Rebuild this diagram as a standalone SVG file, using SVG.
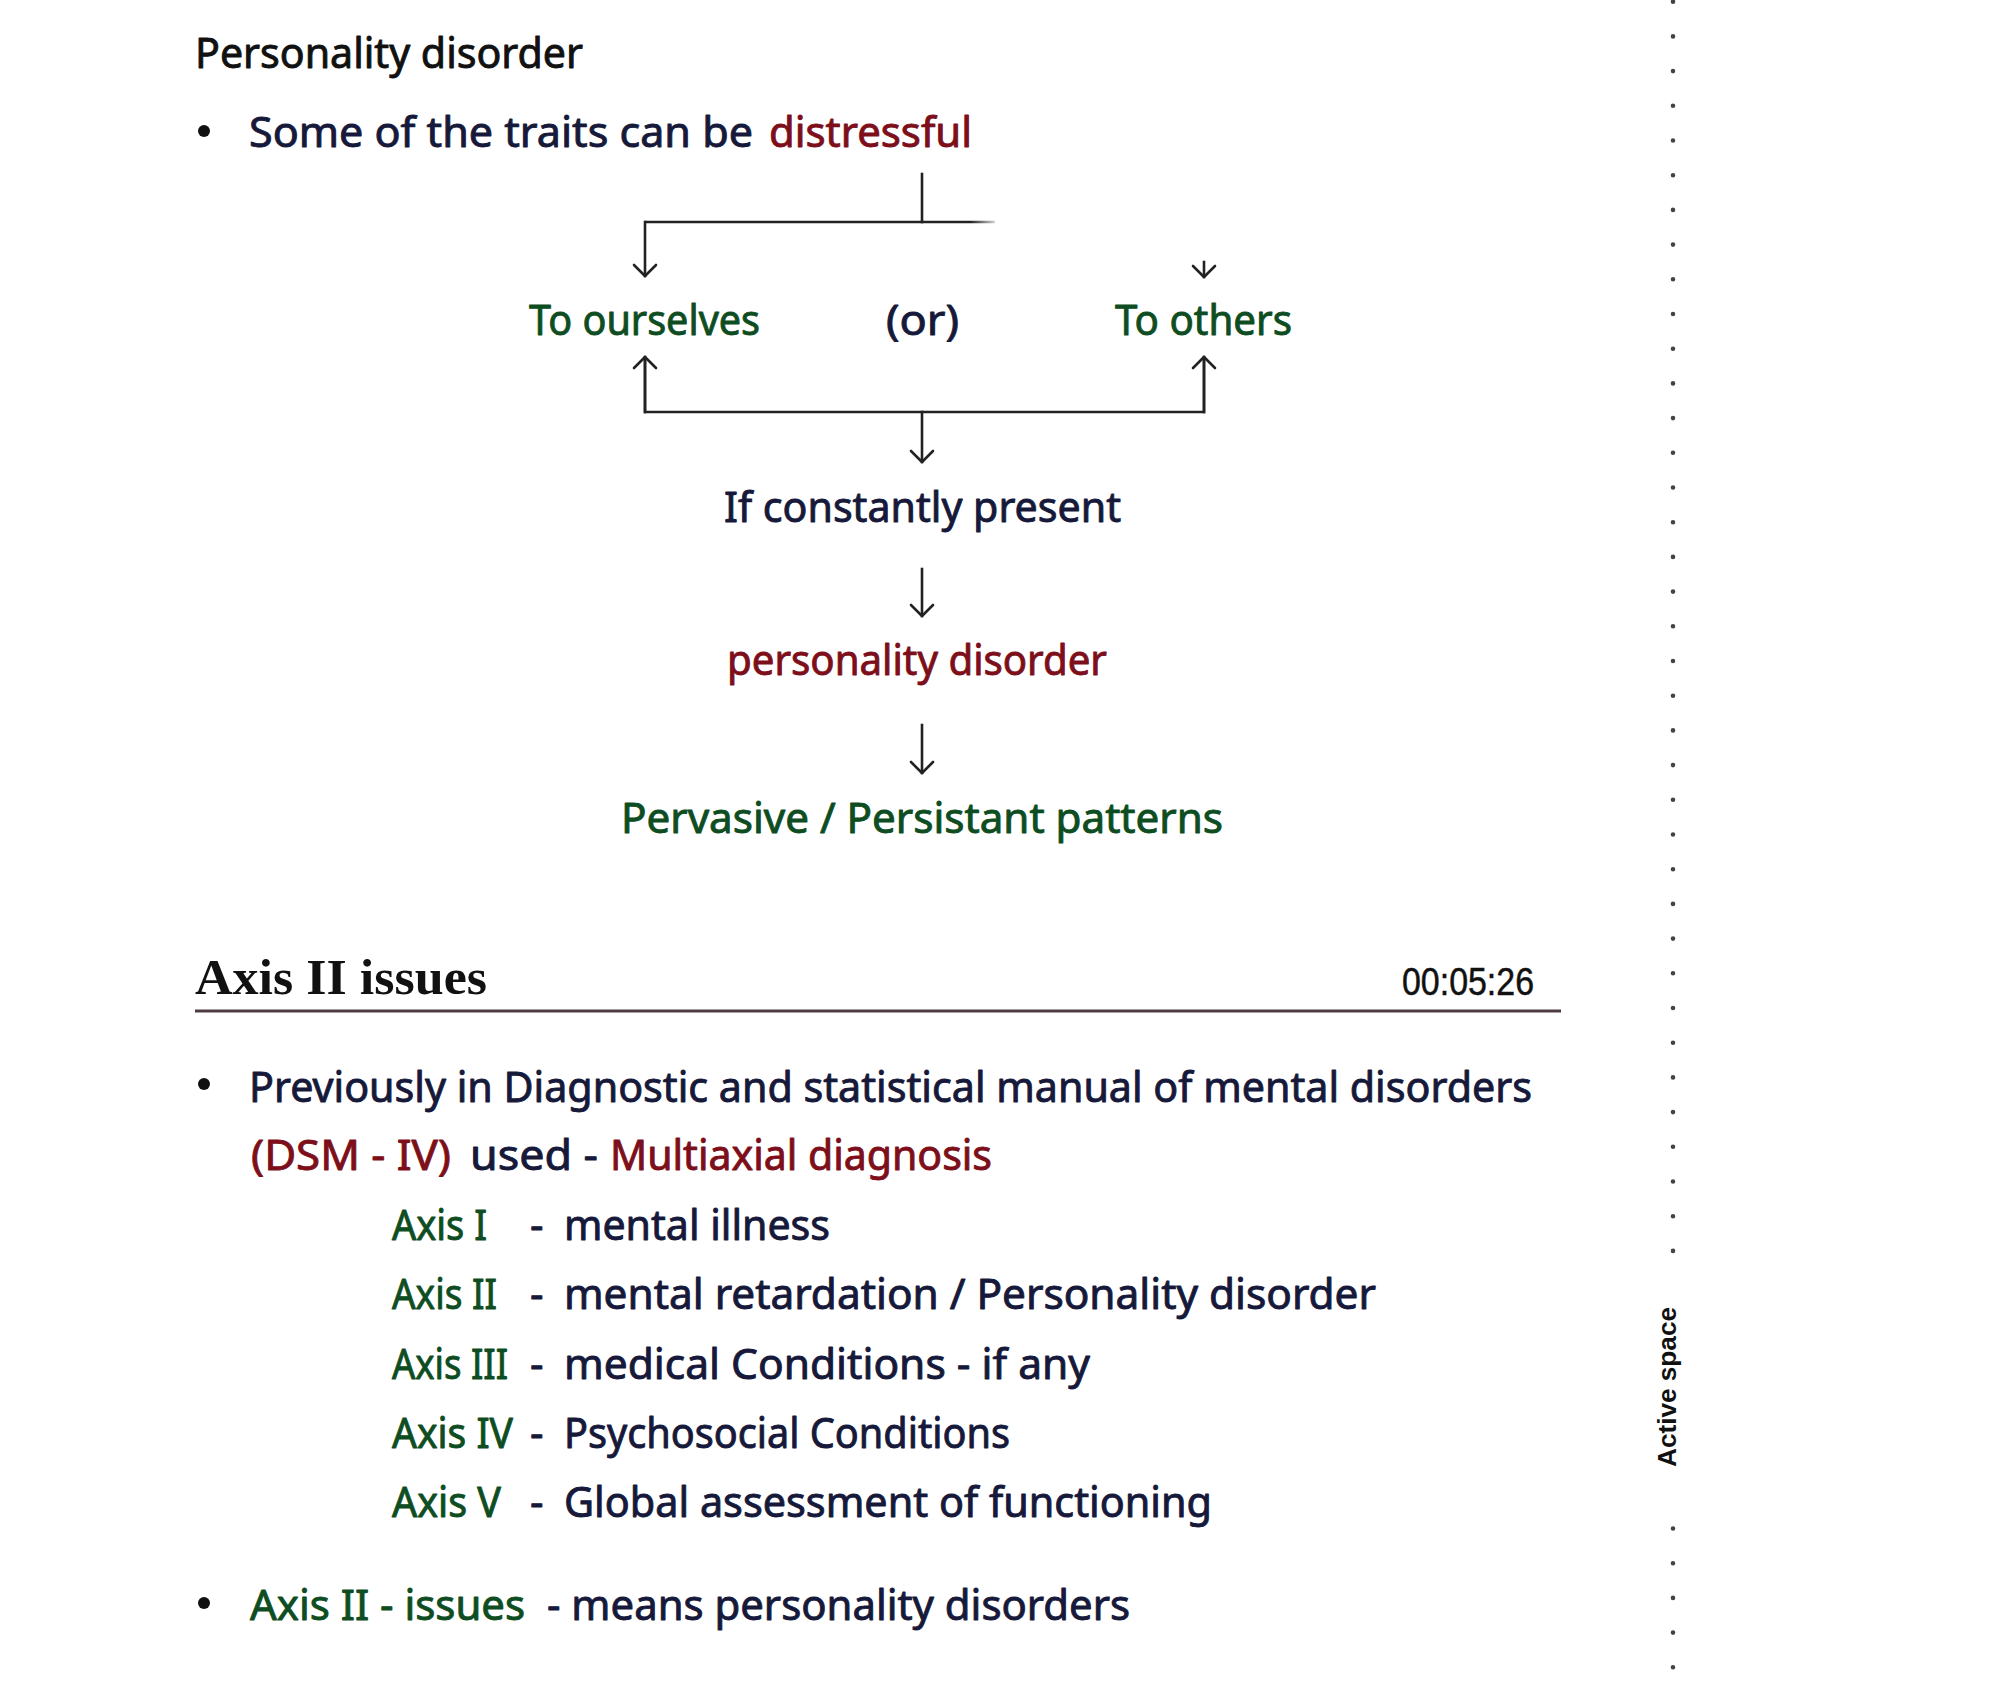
<svg xmlns="http://www.w3.org/2000/svg" width="2000" height="1686" viewBox="0 0 2000 1686">
<style>
.hw{font-family:"Noto Sans","DejaVu Sans",sans-serif;font-size:42px;stroke-width:0.9;stroke-linejoin:round}
.navy{fill:#16193a;stroke:#16193a}
.green{fill:#0e4d22;stroke:#0e4d22}
.red{fill:#7d0f1a;stroke:#7d0f1a}
.blk{fill:#111111;stroke:#111111}
.ln{stroke:#222222;stroke-width:2.6;fill:none;stroke-linecap:square}
.arw{marker-end:url(#arr)}
.dot{fill:#111111}
</style>
<defs>
<marker id="arr" markerUnits="userSpaceOnUse" markerWidth="30" markerHeight="30" viewBox="-15 -15 30 30" refX="0" refY="0" orient="auto">
<path d="M-11,-11 L0,0 L-11,11" fill="none" stroke="#222222" stroke-width="2.6" stroke-linecap="round" stroke-linejoin="round"/>
</marker>
<linearGradient id="fade" x1="645" y1="0" x2="995" y2="0" gradientUnits="userSpaceOnUse">
<stop offset="0.93" stop-color="#222222"/>
<stop offset="1" stop-color="#222222" stop-opacity="0.2"/>
</linearGradient>
</defs>
<rect width="2000" height="1686" fill="#ffffff"/>

<g id="title">
<text class="hw blk" x="195" y="68" font-size="36" textLength="388" lengthAdjust="spacingAndGlyphs">Personality disorder</text>
</g>
<g id="traits">
<circle class="dot" cx="204" cy="131" r="6"/>
<text class="hw navy" x="249" y="147" textLength="504" lengthAdjust="spacingAndGlyphs">Some of the traits can be</text>
<text class="hw red" x="769" y="147" textLength="203" lengthAdjust="spacingAndGlyphs">distressful</text>
</g>
<g id="ourselves">
<text class="hw green" x="529" y="335" font-size="38" textLength="231" lengthAdjust="spacingAndGlyphs">To ourselves</text>
</g>
<g id="or">
<text class="hw navy" x="886" y="335" font-size="38" textLength="73" lengthAdjust="spacingAndGlyphs">(or)</text>
</g>
<g id="others">
<text class="hw green" x="1115" y="335" font-size="38" textLength="177" lengthAdjust="spacingAndGlyphs">To others</text>
</g>
<g id="constantly">
<text class="hw navy" x="724" y="522" textLength="397" lengthAdjust="spacingAndGlyphs">If constantly present</text>
</g>
<g id="pd">
<text class="hw red" x="727" y="675" textLength="380" lengthAdjust="spacingAndGlyphs">personality disorder</text>
</g>
<g id="pervasive">
<text class="hw green" x="621" y="833" textLength="602" lengthAdjust="spacingAndGlyphs">Pervasive / Persistant patterns</text>
</g>

<g id="connectors">
<line class="ln" x1="922" y1="174" x2="922" y2="222"/>
<line x1="645" y1="222" x2="995" y2="222" stroke="url(#fade)" stroke-width="2.6"/>
<line class="ln arw" x1="645" y1="222" x2="645" y2="276"/>
<line class="ln arw" x1="1204" y1="262" x2="1204" y2="277"/>
<polyline class="ln" points="645,358 645,412 1204,412 1204,358"/>
<line class="ln arw" x1="645" y1="412" x2="645" y2="357"/>
<line class="ln arw" x1="1204" y1="412" x2="1204" y2="357"/>
<line class="ln arw" x1="922" y1="412" x2="922" y2="462"/>
<line class="ln arw" x1="922" y1="569" x2="922" y2="616"/>
<line class="ln arw" x1="922" y1="725" x2="922" y2="773"/>
</g>

<g id="axis-heading">
<text x="195" y="994" font-family="'Liberation Serif','Times New Roman',serif" font-weight="bold" font-size="50" fill="#111" textLength="292" lengthAdjust="spacingAndGlyphs">Axis II issues</text>
<text x="1402" y="995" font-family="'Liberation Sans',Arial,sans-serif" font-size="38" fill="#111" stroke="#111" stroke-width="0.5" textLength="132" lengthAdjust="spacingAndGlyphs">00:05:26</text>
<line x1="195" y1="1011" x2="1561" y2="1011" stroke="#4e3c42" stroke-width="3"/>
</g>

<g id="dsm">
<circle class="dot" cx="204" cy="1084" r="6"/>
<text class="hw navy" x="249" y="1102" textLength="1283" lengthAdjust="spacingAndGlyphs">Previously in Diagnostic and statistical manual of mental disorders</text>
<text class="hw red" x="251" y="1170" textLength="200" lengthAdjust="spacingAndGlyphs">(DSM - IV)</text>
<text class="hw navy" x="470" y="1170" textLength="128" lengthAdjust="spacingAndGlyphs">used -</text>
<text class="hw red" x="610" y="1170" textLength="382" lengthAdjust="spacingAndGlyphs">Multiaxial diagnosis</text>
</g>

<g id="axis1">
<text class="hw green" x="392" y="1240" textLength="95" lengthAdjust="spacingAndGlyphs">Axis I</text>
<text class="hw navy" x="530" y="1240">-</text>
<text class="hw navy" x="564" y="1240" textLength="266" lengthAdjust="spacingAndGlyphs">mental illness</text>
</g>
<g id="axis2">
<text class="hw green" x="392" y="1309" textLength="105" lengthAdjust="spacingAndGlyphs">Axis II</text>
<text class="hw navy" x="530" y="1309">-</text>
<text class="hw navy" x="564" y="1309" textLength="812" lengthAdjust="spacingAndGlyphs">mental retardation / Personality disorder</text>
</g>
<g id="axis3">
<text class="hw green" x="392" y="1379" textLength="116" lengthAdjust="spacingAndGlyphs">Axis III</text>
<text class="hw navy" x="530" y="1379">-</text>
<text class="hw navy" x="564" y="1379" textLength="526" lengthAdjust="spacingAndGlyphs">medical Conditions - if any</text>
</g>
<g id="axis4">
<text class="hw green" x="392" y="1448" textLength="121" lengthAdjust="spacingAndGlyphs">Axis IV</text>
<text class="hw navy" x="530" y="1448">-</text>
<text class="hw navy" x="564" y="1448" textLength="446" lengthAdjust="spacingAndGlyphs">Psychosocial Conditions</text>
</g>
<g id="axis5">
<text class="hw green" x="392" y="1517" textLength="109" lengthAdjust="spacingAndGlyphs">Axis V</text>
<text class="hw navy" x="530" y="1517">-</text>
<text class="hw navy" x="564" y="1517" textLength="648" lengthAdjust="spacingAndGlyphs">Global assessment of functioning</text>
</g>

<g id="summary">
<circle class="dot" cx="204" cy="1603" r="6"/>
<text class="hw green" x="250" y="1620" textLength="275" lengthAdjust="spacingAndGlyphs">Axis II - issues</text>
<text class="hw navy" x="547" y="1620" textLength="583" lengthAdjust="spacingAndGlyphs">- means personality disorders</text>
</g>

<g id="active-space">
<line x1="1673" y1="1.7" x2="1673" y2="1252" stroke="#444" stroke-width="4.6" stroke-linecap="round" stroke-dasharray="0 34.7"/>
<line x1="1673" y1="1528.5" x2="1673" y2="1672" stroke="#444" stroke-width="4.6" stroke-linecap="round" stroke-dasharray="0 34.7"/>
<text transform="translate(1676,1387) rotate(-90)" text-anchor="middle" font-family="'Liberation Sans',Arial,sans-serif" font-weight="bold" font-size="26" fill="#111" textLength="160" lengthAdjust="spacingAndGlyphs">Active space</text>
</g>
</svg>
